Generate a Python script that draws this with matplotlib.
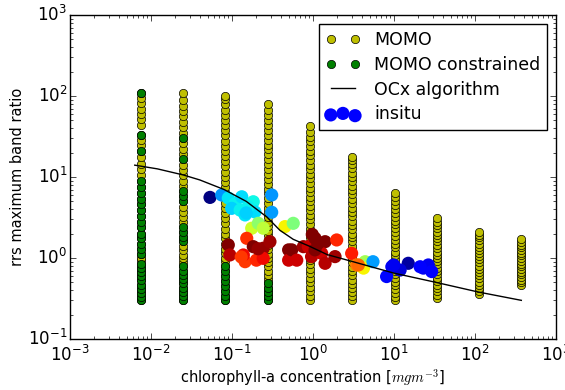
import numpy as np
import matplotlib
matplotlib.use('Agg')
import matplotlib.pyplot as plt

plt.style.use('classic')

# chlorophyll levels of the MOMO runs (one column of points per level)
momo_chl = [0.0075, 0.025, 0.081, 0.275, 0.91, 3.05, 10.2, 33.7, 113, 373]

# MOMO band ratios per chlorophyll level
momo_ratio = [
    [0.30, 0.33, 0.37, 0.42, 0.47, 0.53, 0.60, 0.68, 0.76, 0.85, 0.95, 1.0, 1.12, 1.3, 1.5, 1.75, 2.0, 2.4,
     2.8, 3.3, 3.9, 4.6, 5.4, 6.3, 7.5, 8.8, 10.5, 12.4, 14.5, 17.5, 21, 25, 29, 33, 44, 52, 60, 70, 82, 95, 109],
    [0.30, 0.34, 0.38, 0.43, 0.49, 0.55, 0.62, 0.70, 0.79, 0.89, 1.0, 1.1, 1.25, 1.4, 1.6, 1.8, 2.1, 2.4,
     2.8, 3.2, 3.7, 4.3, 5.0, 5.8, 6.7, 7.8, 9.0, 10.5, 12.2, 14.2, 16.5, 19, 22, 26, 30, 35, 41, 48, 56, 65,
     76, 90, 109],
    [0.30, 0.34, 0.39, 0.45, 0.52, 0.60, 0.70, 0.80, 0.92, 1.0, 1.15, 1.3, 1.5, 1.75, 2.0, 2.3, 2.7, 3.1,
     3.6, 4.2, 4.8, 5.6, 6.5, 7.5, 8.7, 10, 11.6, 13.5, 15.6, 18, 21, 24, 28, 33, 38, 44, 51, 59, 68, 80, 92, 100],
    [0.30, 0.34, 0.38, 0.43, 0.49, 0.55, 0.62, 0.70, 0.79, 0.89, 1.0, 1.13, 1.28, 1.45, 1.65, 1.9, 2.15,
     2.45, 2.8, 3.2, 3.7, 4.2, 4.8, 5.5, 6.3, 7.2, 8.3, 9.5, 11, 12.6, 14.5, 16.6, 19, 22, 25, 29, 33, 38,
     44, 51, 59, 68, 80],
    [0.30, 0.34, 0.39, 0.44, 0.50, 0.57, 0.65, 0.74, 0.84, 0.95, 1.0, 1.08, 1.22, 1.38, 1.57, 1.8, 2.05,
     2.3, 2.65, 3.0, 3.4, 3.9, 4.4, 5.0, 5.7, 6.5, 7.4, 8.4, 9.6, 11, 12.5, 14.2, 16.2, 18.5, 21, 24, 27.5,
     31, 36, 43],
    [0.30, 0.34, 0.38, 0.43, 0.48, 0.54, 0.61, 0.69, 0.78, 0.88, 1.0, 1.12, 1.26, 1.42, 1.6, 1.8, 2.0,
     2.25, 2.55, 2.9, 3.3, 3.7, 4.2, 4.8, 5.4, 6.1, 6.9, 7.8, 8.8, 10, 11.3, 12.8, 14.5, 16, 17.5],
    [0.30, 0.33, 0.37, 0.41, 0.46, 0.51, 0.57, 0.63, 0.70, 0.78, 0.87, 0.97, 1.08, 1.2, 1.35, 1.5, 1.68,
     1.88, 2.1, 2.35, 2.6, 2.9, 3.25, 3.6, 4.0, 4.5, 5.0, 5.6, 6.4],
    [0.32, 0.35, 0.39, 0.43, 0.47, 0.52, 0.57, 0.63, 0.69, 0.76, 0.84, 0.92, 1.0, 1.1, 1.2, 1.32, 1.45,
     1.6, 1.76, 1.93, 2.12, 2.33, 2.56, 2.8, 3.1],
    [0.36, 0.39, 0.43, 0.47, 0.51, 0.56, 0.61, 0.67, 0.73, 0.8, 0.88, 0.96, 1.05, 1.15, 1.26, 1.38, 1.5,
     1.65, 1.8, 1.95, 2.1],
    [0.46, 0.5, 0.54, 0.58, 0.63, 0.68, 0.73, 0.79, 0.85, 0.92, 1.0, 1.08, 1.16, 1.25, 1.35, 1.46, 1.58, 1.72],
]

# constrained MOMO runs (only the four lowest levels)
constr_chl = [0.0075, 0.025, 0.081, 0.275]
constr_ratio = [
    [0.30, 0.33, 0.37, 0.42, 0.47, 0.53, 0.60, 0.68, 0.76, 0.85, 1.12, 1.3, 1.5, 1.75, 2.0, 2.4, 2.8, 3.3,
     3.9, 4.6, 5.4, 6.3, 7.5, 8.8, 21, 33, 109],
    [0.30, 0.34, 0.38, 0.43, 0.49, 0.55, 0.62, 0.70, 0.79, 1.6, 1.8, 2.1, 2.4, 5.0, 5.8, 6.7, 16.5, 30],
    [0.30, 0.34, 0.39, 0.45, 0.52, 0.60, 0.70, 0.80],
    [0.30, 0.34, 0.38, 0.43, 0.49],
]

# OCx algorithm curve
ocx_chl = [0.0063, 0.012, 0.025, 0.04, 0.08, 0.11, 0.15, 0.27, 0.39, 0.57, 0.9, 1.5, 3.0, 10, 33, 110, 373]
ocx_ratio = [14, 12.6, 10.6, 9.2, 7.0, 5.9, 5.0, 3.2, 2.2, 1.7, 1.4, 1.1, 0.91, 0.65, 0.50, 0.38, 0.30]

# in situ matchups: chl, ratio and colour value (jet)
insitu_chl = [0.0535, 0.0746, 0.09, 0.109, 0.132, 0.099, 0.126, 0.145, 0.183, 0.192, 0.158, 0.15,
              0.309, 0.309, 0.175, 0.211, 0.243, 0.45, 0.57,
              0.152, 0.09, 0.094, 0.183, 0.243, 0.294, 0.145, 0.138, 0.2, 0.243, 0.5, 0.5, 0.21, 0.13,
              0.546, 0.63, 0.76, 0.875, 0.96, 1.06, 1.41, 1.96, 1.28, 1.41, 1.87, 1.06, 1.16, 0.98,
              3.0, 3.47, 4.4, 4.2, 5.5, 3.63,
              9.4, 8.1, 15, 11.9, 9.9, 23, 26.5, 29.2, 21]
insitu_ratio = [5.6, 6.0, 5.5, 4.7, 5.7, 4.1, 3.9, 3.4, 4.95, 3.7, 4.3, 3.6,
                6.0, 3.67, 2.33, 2.68, 2.33, 2.44, 2.68,
                1.75, 1.45, 1.09, 1.38, 1.32, 1.59, 0.9, 1.09, 0.94, 0.99, 1.26, 0.94, 1.3, 1.03,
                1.26, 0.94, 1.38, 1.38, 1.04, 1.75, 1.59, 1.67, 1.14, 0.86, 1.04, 1.26, 1.52, 1.95,
                1.14, 0.82, 0.9, 0.75, 0.9, 0.82,
                0.78, 0.59, 0.86, 0.71, 0.82, 0.75, 0.82, 0.68, 0.78]
insitu_c = [0.0, 0.27, 0.35, 0.36, 0.34, 0.33, 0.36, 0.35, 0.37, 0.34, 0.36, 0.33,
            0.27, 0.28, 0.6, 0.52, 0.58, 0.65, 0.5,
            0.86, 1.0, 0.95, 1.0, 0.98, 0.97, 0.85, 0.9, 0.87, 0.9, 1.0, 0.93, 0.98, 0.85,
            1.0, 0.93, 0.97, 0.93, 0.95, 1.0, 1.0, 0.87, 0.93, 0.95, 0.97, 1.0, 1.0, 1.0,
            0.88, 0.78, 0.55, 0.65, 0.28, 0.8,
            0.1, 0.13, 0.03, 0.08, 0.1, 0.1, 0.1, 0.12, 0.12]

fig = plt.figure(figsize=(5.65, 3.9), dpi=100)
ax = fig.add_axes([0.1239, 0.1308, 0.8602, 0.8307])

mx = [c for c, col in zip(momo_chl, momo_ratio) for _ in col]
my = [r for col in momo_ratio for r in col]
h1, = ax.plot(mx, my, 'o', color='y', markersize=6, label='MOMO', zorder=2)

cx = [c for c, col in zip(constr_chl, constr_ratio) for _ in col]
cy = [r for col in constr_ratio for r in col]
h2, = ax.plot(cx, cy, 'o', color='g', markersize=6, label='MOMO constrained', zorder=2)

h4 = ax.scatter(insitu_chl, insitu_ratio, c=insitu_c, cmap='jet', vmin=0, vmax=1,
                s=90, edgecolors='none', label='insitu', zorder=3)

h3, = ax.plot(ocx_chl, ocx_ratio, 'k-', lw=1, label='OCx algorithm', zorder=4)

ax.set_xscale('log')
ax.set_yscale('log')
ax.set_xlim(1e-3, 1e3)
ax.set_ylim(1e-1, 1e3)
ax.tick_params(axis='y', pad=2)
ax.set_xlabel(r'chlorophyll-a concentration [$mgm^{-3}$]', fontsize=10.5, labelpad=2)
ax.set_ylabel('rrs maximum band ratio', fontsize=10.5, labelpad=2)

leg = ax.legend([h1, h2, h3, h4], ['MOMO', 'MOMO constrained', 'OCx algorithm', 'insitu'],
                loc='upper right', numpoints=2, scatterpoints=3, fontsize=12.5, labelspacing=0.4)
leg.legend_handles[3].set_facecolor('blue')
leg.legend_handles[3].set_array(None)

fig.savefig('out.png', dpi=100)
